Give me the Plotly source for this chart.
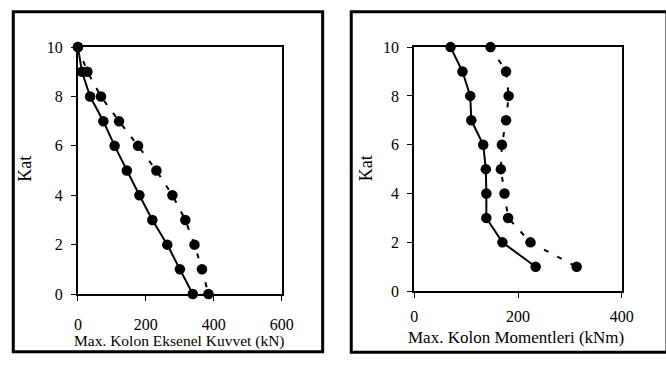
import plotly.graph_objects as go

# Storey levels
kat_axial = [10, 9, 8, 7, 6, 5, 4, 3, 2, 1, 0]
kat_moment = [10, 9, 8, 7, 6, 5, 4, 3, 2, 1]

# Maximum column axial force (kN)
axial_solid = [0, 12, 36, 75, 108, 144, 181, 219, 263, 300, 338]
axial_dashed = [0, 28, 68, 121, 177, 231, 278, 316, 343, 365, 384]

# Maximum column moments (kNm)
moment_solid = [70, 93, 108, 110, 133, 138, 139, 139, 170, 234]
moment_dashed = [147, 177, 182, 177, 169, 167, 174, 181, 224, 313]

FONT = "Liberation Serif"
W, H = 666, 365

fig = go.Figure()

def add_pair(xs_solid, xs_dashed, ys, xa, ya):
    fig.add_trace(go.Scatter(
        x=xs_dashed, y=ys, mode="lines+markers", xaxis=xa, yaxis=ya,
        line=dict(color="black", width=2, dash="5px,10px"),
        marker=dict(color="black", size=10.5), showlegend=False,
        cliponaxis=False))
    fig.add_trace(go.Scatter(
        x=xs_solid, y=ys, mode="lines+markers", xaxis=xa, yaxis=ya,
        line=dict(color="black", width=2),
        marker=dict(color="black", size=10.5), showlegend=False,
        cliponaxis=False))

add_pair(axial_solid, axial_dashed, kat_axial, "x", "y")
add_pair(moment_solid, moment_dashed, kat_moment, "x2", "y2")

axis_common = dict(
    showgrid=False, zeroline=False, showline=True, linecolor="black",
    linewidth=2, mirror=True, ticks="outside", ticklen=5, tickwidth=1,
    tickcolor="black", tickfont=dict(family=FONT, size=16, color="black"),
)

fig.update_layout(
    width=W, height=H, margin=dict(l=0, r=0, t=0, b=0),
    paper_bgcolor="white", plot_bgcolor="white",
    xaxis=dict(domain=[75.7 / W, 284.7 / W], range=[0, 600],
               tickvals=[0, 200, 400, 600], anchor="y",
               ticklabelstandoff=10, **axis_common),
    yaxis=dict(domain=[1 - 300 / H, 1 - 41 / H], range=[0, 10],
               tickvals=[0, 2, 4, 6, 8, 10], anchor="x",
               ticklabelstandoff=5, **axis_common),
    xaxis2=dict(domain=[420.3 / W, 633 / W], range=[0, 400],
                tickvals=[0, 200, 400], anchor="y2",
                ticklabelstandoff=5, **axis_common),
    yaxis2=dict(domain=[1 - 297 / H, 1 - 41 / H], range=[0, 10],
                tickvals=[0, 2, 4, 6, 8, 10], anchor="x2",
                ticklabelstandoff=5, **axis_common),
)

# Outer frames around each panel
fig.add_shape(type="rect", xref="paper", yref="paper",
              x0=9.5 / W, x1=326.5 / W, y0=1 - 360.5 / H, y1=1 - 4 / H,
              line=dict(color="black", width=3), layer="below")
fig.add_shape(type="rect", xref="paper", yref="paper",
              x0=355.8 / W, x1=1.02, y0=1 - 361 / H, y1=1 - 4 / H,
              line=dict(color="black", width=3), layer="below")

# Axis titles
def label(text, x, y, size, angle=0):
    fig.add_annotation(text=text, xref="paper", yref="paper",
                       x=x / W, y=1 - y / H, showarrow=False,
                       xanchor="center", yanchor="middle", textangle=angle,
                       borderpad=0,
                       font=dict(family=FONT, size=size, color="black"))

label("Max. Kolon Eksenel Kuvvet (kN)", 180, 349, 15.5)
label("Max. Kolon Momentleri (kNm)", 525, 346, 17)
label("Kat", 22, 168, 18, -90)
label("Kat", 371, 168, 18, -90)

fig.write_html("out.html")
